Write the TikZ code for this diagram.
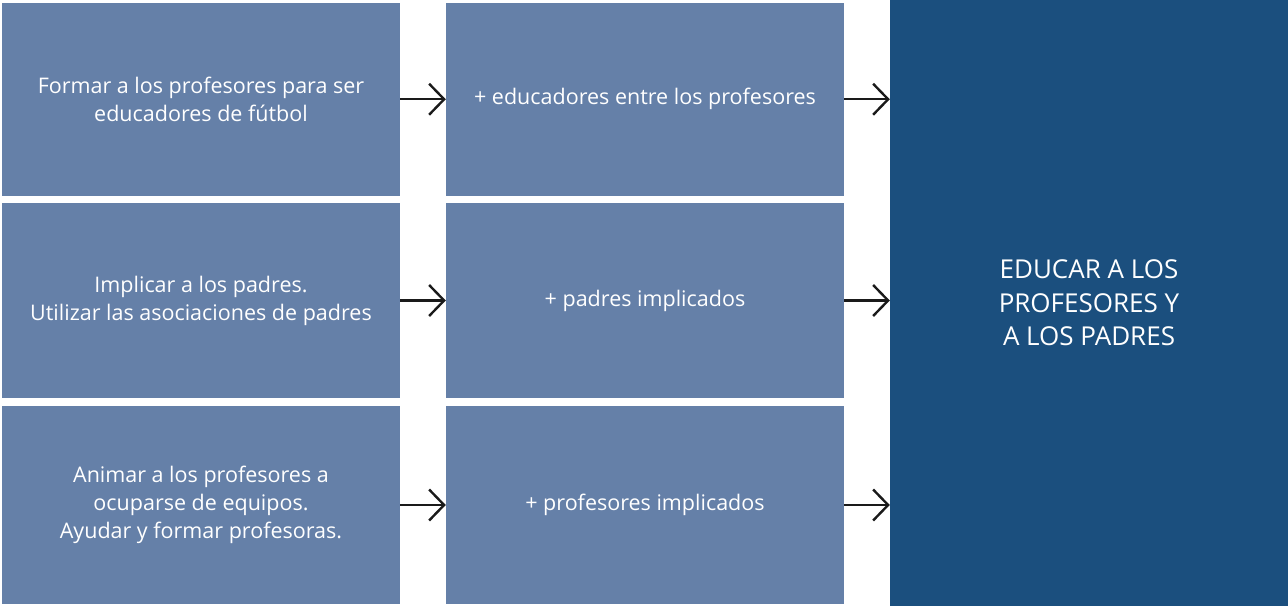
\documentclass[tikz,border=0pt]{standalone}
\usepackage{fontspec}
\setmainfont{Open Sans}
\usetikzlibrary{arrows.meta,positioning}
\definecolor{paleblue}{RGB}{101,128,168}
\definecolor{deepblue}{RGB}{27,79,126}
\definecolor{arrowink}{RGB}{26,26,26}

\begin{document}
\begin{tikzpicture}[x=1pt, y=-1pt,
  box/.style={fill=paleblue, text=white, minimum width=398pt, inner sep=0pt,
    align=center, font=\fontsize{21.5}{28}\selectfont},
  goal/.style={fill=deepblue, text=white, minimum width=398pt, minimum height=606pt,
    inner sep=0pt, align=center, font=\fontsize{26}{33.5}\selectfont},
  flow/.style={arrowink, line width=2.4pt,
    -{Straight Barb[length=15pt, width=31pt, line width=2.4pt]}}]
  \useasboundingbox (0,0) rectangle (1288,606);
  % left column
  \node[box, minimum height=192.5pt] (act1) at (201,99.25)
    {Formar a los profesores para ser\\educadores de fútbol};
  \node[box, minimum height=195pt] (act2) at (201,300.5)
    {Implicar a los padres.\\Utilizar las asociaciones de padres};
  \node[box, minimum height=198pt] (act3) at (201,505)
    {Animar a los profesores a\\ocuparse de equipos.\\Ayudar y formar profesoras.};
  % middle column
  \node[box, minimum height=192.5pt] (res1) at (645,99.25)
    {+ educadores entre los profesores};
  \node[box, minimum height=195pt] (res2) at (645,300.5)
    {+ padres implicados};
  \node[box, minimum height=198pt] (res3) at (645,505)
    {+ profesores implicados};
  % goal
  \node[goal] (aim) at (1089,303)
    {EDUCAR A LOS\\PROFESORES Y\\A LOS PADRES};
  % arrows
  \foreach \i in {1,2,3} {
    \draw[flow] (act\i.east) -- (res\i.west);
    \draw[flow] (res\i.east) -- (res\i.east -| aim.west);
  }
\end{tikzpicture}
\end{document}
